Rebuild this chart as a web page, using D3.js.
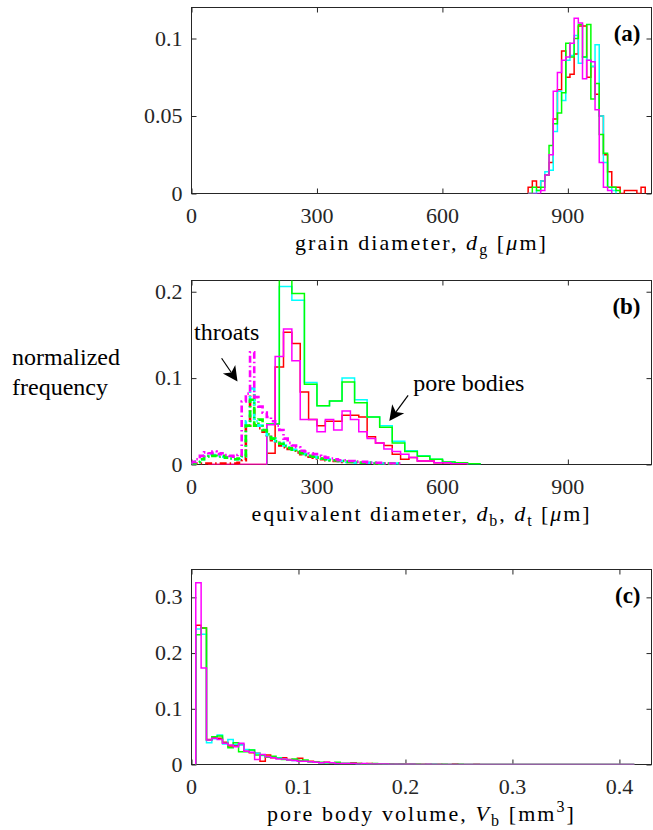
<!DOCTYPE html>
<html><head><meta charset="utf-8">
<script src="https://cdn.jsdelivr.net/npm/d3@7"></script>
</head><body style="margin:0">
<svg id="chart" width="653" height="830"></svg>
<script>
// ---------------- data ----------------
const seriesColors = ["#ff0000", "#00ffff", "#00ff00", "#ff00ff"]; // red, cyan, green, magenta

// (a) grain diameter histograms, bins of 10 µm starting at 805 µm
const grainStart = 805, grainWidth = 10;
const grainRed = [0.004,0.008,0.004,0.008,0.012,0.02,0.048,0.067,0.092,0.075,0.077,0.09,0.108,0.108,0.075,0.082,0.064,0.05,0.025,0.014,0.004,0.004,0,0.002,0.002,0.002,0,0.004];
const grainCyan = [0,0,0.002,0.008,0.014,0.015,0.04,0.066,0.06,0.086,0.089,0.102,0.084,0.088,0.086,0.082,0.096,0.05,0.02,0.004,0.002];
const grainGreen = [0,0.004,0.002,0.004,0.012,0.031,0.045,0.052,0.065,0.097,0.088,0.1,0.109,0.088,0.109,0.061,0.071,0.038,0.026,0.004,0.004,0.002];
const grainMagenta = [0,0,0,0.002,0.012,0.025,0.066,0.078,0.086,0.088,0.097,0.113,0.11,0.074,0.086,0.085,0.054,0.02,0.004,0.002];

// (b) throat diameters, bins of 10 µm starting at 0
const throatStart = 0, throatWidth = 10;
const throatRed = [0,0.001,0.001,0.001,0.001,0.001,0.001,0.001,0.001,0.001,0.001,0.002,0.005,0.045,0.08,0.045,0.042,0.038,0.032,0.028,0.025,0.022,0.02,0.018,0.016,0.014,0.012,0.011,0.009,0.008,0.007,0.006,0.005,0.005,0.004,0.004,0.003,0.003,0.003,0.002,0.002,0.002,0.002,0.001,0.001,0.001,0.001,0.001,0.001,0.001];
const throatCyan = [0.001,0.003,0.006,0.01,0.012,0.011,0.01,0.009,0.008,0.007,0.006,0.006,0.009,0.05,0.088,0.05,0.045,0.04,0.034,0.03,0.027,0.025,0.022,0.02,0.017,0.015,0.013,0.012,0.01,0.009,0.008,0.007,0.006,0.005,0.005,0.004,0.004,0.003,0.003,0.002,0.002,0.002,0.002,0.001,0.001,0.001,0.001,0.001,0.001,0.001];
const throatGreen = [0.001,0.003,0.006,0.009,0.011,0.01,0.009,0.01,0.008,0.007,0.006,0.007,0.01,0.045,0.075,0.045,0.052,0.04,0.035,0.03,0.027,0.024,0.021,0.019,0.017,0.015,0.013,0.011,0.01,0.009,0.008,0.007,0.006,0.005,0.005,0.004,0.004,0.003,0.003,0.003,0.002,0.002,0.002,0.002,0.001,0.001,0.001,0.001,0.001,0.001];
const throatMagenta = [0.003,0.006,0.01,0.014,0.013,0.015,0.012,0.013,0.011,0.01,0.009,0.011,0.073,0.082,0.13,0.078,0.067,0.06,0.055,0.05,0.045,0.04,0.03,0.025,0.022,0.02,0.016,0.015,0.013,0.012,0.01,0.009,0.008,0.007,0.006,0.005,0.005,0.004,0.004,0.003,0.003,0.003,0.002,0.002,0.002,0.002,0.001,0.001,0.001,0.001];

// (b) pore body diameters: red & magenta bins of 20 µm, cyan & green bins of 30 µm
const bodyStartRM = 40, bodyWidthRM = 20;
const bodyRed = [0,0,0,0,0,0,0,0.013,0.113,0.153,0.14,0.084,0.052,0.045,0.05,0.05,0.057,0.057,0.055,0.032,0.025,0.022,0.012,0.006,0.008,0.004,0.004,0.002,0.002,0.001,0.001];
const bodyMagenta = [0,0,0,0,0,0,0,0.046,0.125,0.157,0.12,0.052,0.052,0.038,0.052,0.04,0.062,0.052,0.038,0.03,0.025,0.018,0.015,0.012,0.008,0.004,0.004,0.002,0.002,0.001,0.001];
const bodyStartCG = 180, bodyWidthCG = 30;
const bodyCyan = [0.047,0.206,0.19,0.095,0.068,0.0735,0.1,0.075,0.055,0.045,0.027,0.016,0.01,0.006,0.003,0.002,0.001];
const bodyGreen = [0.047,0.222,0.198,0.093,0.068,0.0735,0.0955,0.0715,0.055,0.043,0.025,0.015,0.0095,0.006,0.003,0.002,0.001];

// (c) pore body volume, bins of 0.005 mm^3 starting at 0.004
const volStart = 0.004, volWidth = 0.005;
const volRed = [0.25,0.245,0.045,0.048,0.047,0.04,0.033,0.034,0.036,0.024,0.021,0.02,0.006,0.017,0.012,0.011,0.012,0.009,0.008,0.011,0.006,0.006,0.005,0.003,0.004,0.003,0.003,0.002,0.002,0.003,0.002,0.001,0.002,0.001,0.001,0.001,0.001,0.001,0.001,0.0005,0.001,0.0005,0.0005,0,0.0005,0.0005,0,0,0.001,0,0,0,0.0005,0,0,0,0,0,0,0,0,0,0,0,0,0,0,0,0,0,0,0,0,0,0,0,0,0,0,0,0,0];
const volCyan = [0.243,0.234,0.039,0.046,0.053,0.037,0.045,0.036,0.035,0.027,0.026,0.02,0.016,0.013,0.013,0.012,0.01,0.008,0.007,0.006,0.006,0.005,0.004,0.003,0.003,0.003,0.002,0.002,0.002,0.002,0.001,0.001,0.001,0.001,0.001,0.0005,0.0005,0.0005,0.0005,0,0.0005,0,0,0,0.0005,0,0,0,0,0,0,0,0,0,0,0,0,0,0,0,0,0,0,0,0,0,0,0,0,0,0,0,0,0,0,0,0,0,0,0,0,0];
const volGreen = [0.233,0.245,0.044,0.05,0.051,0.038,0.03,0.039,0.023,0.023,0.026,0.017,0.017,0.013,0.015,0.011,0.009,0.008,0.01,0.007,0.008,0.005,0.004,0.004,0.003,0.003,0.004,0.002,0.002,0.002,0.002,0.001,0.001,0.002,0.001,0.001,0.001,0.0005,0.001,0.0005,0.0005,0.0005,0,0.0005,0,0,0.0005,0,0,0.0005,0,0,0,0,0,0,0,0,0,0,0,0,0,0,0,0,0,0,0,0,0,0,0,0,0,0,0,0,0,0,0,0];
const volMagenta = [0.326,0.173,0.044,0.047,0.045,0.038,0.035,0.032,0.038,0.024,0.022,0.009,0.018,0.014,0.012,0.01,0.01,0.008,0.007,0.006,0.006,0.005,0.004,0.003,0.004,0.003,0.002,0.002,0.002,0.002,0.001,0.002,0.001,0.001,0.001,0.001,0.0005,0.0005,0.0005,0.0005,0.0005,0,0,0.0005,0,0,0,0,0,0,0,0,0,0,0,0,0,0,0,0,0,0,0,0,0,0,0,0,0,0,0,0,0,0,0,0,0,0,0,0,0,0];

// axes
const xTicksA = [0, 300, 600, 900], yTicksA = [0, 0.05, 0.1];
const xTicksB = [0, 300, 600, 900], yTicksB = [0, 0.1, 0.2];
const xTicksC = [0, 0.1, 0.2, 0.3, 0.4], yTicksC = [0, 0.1, 0.2, 0.3];
const xDomainA = [0, 1100], yDomainA = [0, 0.12];
const xDomainB = [0, 1100], yDomainB = [0, 0.213];
const xDomainC = [0, 0.43], yDomainC = [0, 0.35];

// ---------------- drawing ----------------
const svg = d3.select("#chart");
const AX = "#262626";
const FONT = "Liberation Serif";
const left = 191.5, right = 651.5;

function txt(parent, size) {
  return parent.append("text").attr("font-family", FONT).attr("font-size", size).attr("fill", "#000");
}

function panel(id, top, bottom, xDom, yDom, xTicks, yTicks, letter) {
  const x = d3.scaleLinear().domain(xDom).range([left, right]);
  const y = d3.scaleLinear().domain(yDom).range([bottom, top]);
  const g = svg.append("g");
  g.append("clipPath").attr("id", "clip" + id)
    .append("rect").attr("x", left).attr("y", top).attr("width", right - left).attr("height", bottom - top);
  g.append("rect").attr("x", left).attr("y", top).attr("width", right - left).attr("height", bottom - top)
    .attr("fill", "none").attr("stroke", AX).attr("stroke-width", 1);
  // ticks only (inward), labels drawn as plain text below
  const axB = g.append("g").attr("transform", `translate(0,${bottom})`)
    .call(d3.axisBottom(x).tickValues(xTicks).tickSize(-5).tickSizeOuter(0).tickFormat(""));
  const axT = g.append("g").attr("transform", `translate(0,${top})`)
    .call(d3.axisTop(x).tickValues(xTicks).tickSize(-5).tickSizeOuter(0).tickFormat(""));
  const axL = g.append("g").attr("transform", `translate(${left},0)`)
    .call(d3.axisLeft(y).tickValues(yTicks).tickSize(-5).tickSizeOuter(0).tickFormat(""));
  const axR = g.append("g").attr("transform", `translate(${right},0)`)
    .call(d3.axisRight(y).tickValues(yTicks).tickSize(-5).tickSizeOuter(0).tickFormat(""));
  [axB, axT, axL, axR].forEach(a => {
    a.select(".domain").remove();
    a.selectAll("line").attr("stroke", AX);
    a.selectAll("text").remove();
  });
  xTicks.forEach(v => txt(g, 22).attr("x", x(v)).attr("y", bottom + 29).attr("text-anchor", "middle")
    .attr("fill", AX).text(String(v)));
  yTicks.forEach(v => txt(g, 22).attr("x", left - 9).attr("y", y(v) + 7).attr("text-anchor", "end")
    .attr("fill", AX).text(String(v)));
  txt(g, 23).attr("x", right - 11).attr("y", top + 33).attr("text-anchor", "end")
    .attr("font-weight", "bold").text(letter);
  const data = g.append("g").attr("clip-path", `url(#clip${id})`);
  return {x, y, g, data};
}

function stairs(p, start, width, values, color, opts = {}) {
  const pts = [[start, 0]];
  values.forEach((v, i) => {
    pts.push([start + i * width, v]);
    pts.push([start + (i + 1) * width, v]);
  });
  pts.push([start + values.length * width, 0]);
  const line = d3.line().x(d => p.x(d[0])).y(d => p.y(d[1]));
  const path = p.data.append("path").attr("d", line(pts)).attr("fill", "none")
    .attr("stroke", color).attr("stroke-width", opts.w || 1.5).attr("stroke-linejoin", "miter");
  if (opts.dash) path.attr("stroke-dasharray", opts.dash);
}

function xlabel(bottom, parts, targetWidth) {
  const t = txt(svg, 22).attr("x", (left + right) / 2).attr("y", bottom + 56).attr("text-anchor", "middle");
  parts.forEach(pt => {
    const s = t.append("tspan").text(pt.t);
    if (pt.i) s.attr("font-style", "italic");
    if (pt.small) s.attr("font-size", 16);
    if (pt.dy) s.attr("dy", pt.dy);
  });
  // spread letters so the label spans the same width as the reference label
  const natural = t.node().getComputedTextLength();
  const n = parts.reduce((a, pt) => a + pt.t.length, 0);
  const ls = Math.max(0, (targetWidth - natural) / n);
  t.attr("letter-spacing", ls.toFixed(2));
}

// (a)
const pa = panel("a", 7.5, 193.5, xDomainA, yDomainA, xTicksA, yTicksA, "(a)");
[grainRed, grainCyan, grainGreen, grainMagenta].forEach((s, i) => stairs(pa, grainStart, grainWidth, s, seriesColors[i]));
xlabel(193.5, [{t: "grain diameter, "}, {t: "d", i: true}, {t: "g", small: true, dy: 5}, {t: " [", dy: -5}, {t: "μ", i: true}, {t: "m]"}], 253);

// (b)
const pb = panel("b", 280.5, 464.5, xDomainB, yDomainB, xTicksB, yTicksB, "(b)");
stairs(pb, bodyStartRM, bodyWidthRM, bodyRed, seriesColors[0]);
stairs(pb, bodyStartCG, bodyWidthCG, bodyCyan, seriesColors[1]);
stairs(pb, bodyStartCG, bodyWidthCG, bodyGreen, seriesColors[2]);
stairs(pb, bodyStartRM, bodyWidthRM, bodyMagenta, seriesColors[3]);
[throatRed, throatCyan, throatGreen, throatMagenta].forEach((s, i) =>
  stairs(pb, throatStart, throatWidth, s, seriesColors[i], {w: 2.6, dash: "7,3,1.5,3"}));
xlabel(464.5, [{t: "equivalent diameter, "}, {t: "d", i: true}, {t: "b", small: true, dy: 5}, {t: ", ", dy: -5}, {t: "d", i: true}, {t: "t", small: true, dy: 5}, {t: " [", dy: -5}, {t: "μ", i: true}, {t: "m]"}], 340);

// (c)
const pc = panel("c", 569.5, 764.5, xDomainC, yDomainC, xTicksC, yTicksC, "(c)");
[volRed, volCyan, volGreen, volMagenta].forEach((s, i) => stairs(pc, volStart, volWidth, s, seriesColors[i]));
xlabel(764.5, [{t: "pore body volume, "}, {t: "V", i: true}, {t: "b", small: true, dy: 5}, {t: " [mm", dy: -5}, {t: "3", small: true, dy: -9}, {t: "]", dy: 9}], 309);

// shared y label
txt(svg, 24).attr("x", 12).attr("y", 365).text("normalized");
txt(svg, 24).attr("x", 12).attr("y", 395).text("frequency");

// annotations in panel (b)
function arrow(p, from, to) {
  const x1 = p.x(from[0]), y1 = p.y(from[1]), x2 = p.x(to[0]), y2 = p.y(to[1]);
  const dx = x2 - x1, dy = y2 - y1, L = Math.hypot(dx, dy);
  const ux = dx / L, uy = dy / L, nx = -uy, ny = ux;
  const hl = 15, hw = 7.5, notch = 4;
  svg.append("line").attr("x1", x1).attr("y1", y1)
    .attr("x2", x2 - ux * (hl - notch)).attr("y2", y2 - uy * (hl - notch))
    .attr("stroke", "#000").attr("stroke-width", 1.2);
  const pts = [[x2, y2], [x2 - ux * hl + nx * hw, y2 - uy * hl + ny * hw],
    [x2 - ux * (hl - notch), y2 - uy * (hl - notch)], [x2 - ux * hl - nx * hw, y2 - uy * hl - ny * hw]];
  svg.append("polygon").attr("points", pts.map(q => q.join(",")).join(" ")).attr("fill", "#000");
}
txt(svg, 24).attr("x", pb.x(6)).attr("y", pb.y(0.144)).text("throats");
arrow(pb, [72, 0.123], [110, 0.096]);
txt(svg, 24).attr("x", pb.x(530)).attr("y", pb.y(0.085)).text("pore bodies");
arrow(pb, [518, 0.080], [473, 0.0505]);
</script>
</body></html>
